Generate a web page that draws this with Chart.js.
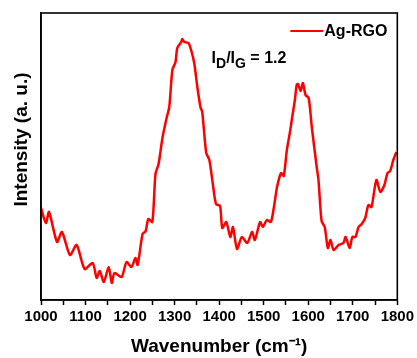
<!DOCTYPE html>
<html>
<head>
<meta charset="utf-8">
<script src="https://cdn.jsdelivr.net/npm/chart.js@4.4.1/dist/chart.umd.min.js"></script>
<style>
  html, body { margin: 0; padding: 0; background: #fff; }
  #wrap { width: 417px; height: 358px; position: relative; }
</style>
</head>
<body>
<div id="wrap"><canvas id="c" width="417" height="358"></canvas></div>
<script>
// ---- data ----
const seriesName = 'Ag-RGO';
const wavenumber = [1000,1011,1018,1036,1047,1065,1080,1098,1116,1125,1132,1141,1152,1159,1165,1181,1192,1203,1212,1217,1228,1235,1241,1250,1257,1264,1273,1282,1288,1295,1302,1306,1315,1317,1322,1331,1337,1344,1351,1358,1362,1371,1378,1387,1393,1402,1407,1416,1425,1431,1440,1451,1463,1474,1480,1492,1498,1507,1516,1523,1530,1539,1545,1552,1559,1563,1570,1574,1577,1583,1588,1594,1601,1608,1619,1623,1630,1637,1644,1650,1657,1668,1679,1684,1693,1699,1706,1713,1720,1728,1735,1742,1753,1762,1771,1778,1784,1791,1798];
const intensity = [92,77,88,58,68,45,55,31,37,22,29,18,33,17,27,23,38,33,42,35,66,69,81,78,126,136,163,182,193,230,238,252,258,261,258,257,250,237,213,193,188,147,140,112,96,94,72,78,63,73,51,63,57,68,60,78,73,80,78,93,113,127,124,150,168,180,200,215,216,209,217,205,202,173,133,120,79,73,52,60,50,55,57,63,52,63,63,73,76,82,95,93,120,108,115,127,129,140,148];
const xTickValues = [1000,1100,1200,1300,1400,1500,1600,1700,1800];
const xTitle = 'Wavenumber (cm\u207B\u00B9)';
const yTitle = 'Intensity (a. u.)';
const ratioLabel = { main: 'I', sub1: 'D', slash: '/I', sub2: 'G', rest: ' = 1.2', x: 1383, y: 237 };

const FONT = "'Liberation Sans', Arial, sans-serif";
const RED = '#ff0000';

const boxAndNote = {
  id: 'boxAndNote',
  afterDatasetsDraw(chart) {
    const { ctx, chartArea: a, scales } = chart;
    ctx.save();
    ctx.strokeStyle = '#000';
    ctx.lineWidth = 1.6;
    ctx.strokeRect(a.left, a.top, a.right - a.left, a.bottom - a.top);
    // y axis title (placed a little above the axis centre, as in the original)
    ctx.save();
    ctx.translate(22, (a.top + a.bottom) / 2 - 17);
    ctx.rotate(-Math.PI / 2);
    ctx.fillStyle = '#000';
    ctx.font = 'bold 19px ' + FONT;
    ctx.textAlign = 'center';
    ctx.textBaseline = 'middle';
    ctx.fillText(yTitle, 0, 0);
    ctx.restore();
    // legend (inside plot, top right)
    const ds = chart.data.datasets[0];
    const ly = a.top + 18;
    const lx = a.right - 107;
    ctx.strokeStyle = ds.borderColor;
    ctx.lineWidth = 2;
    ctx.beginPath();
    ctx.moveTo(lx, ly);
    ctx.lineTo(lx + 33, ly);
    ctx.stroke();
    ctx.fillStyle = '#000';
    ctx.font = 'bold 16px ' + FONT;
    ctx.textBaseline = 'middle';
    ctx.fillText(ds.label, lx + 34, ly + 1);
    // I_D/I_G = 1.2
    let x = scales.x.getPixelForValue(ratioLabel.x);
    const y = scales.y.getPixelForValue(ratioLabel.y);
    ctx.textBaseline = 'alphabetic';
    const big = 'bold 16px ' + FONT, small = 'bold 14px ' + FONT;
    const parts = [[ratioLabel.main, big, 0], [ratioLabel.sub1, small, 5], [ratioLabel.slash, big, 0], [ratioLabel.sub2, small, 5], [ratioLabel.rest, big, 0]];
    for (const [t, f, dy] of parts) {
      ctx.font = f;
      ctx.fillText(t, x, y + dy);
      x += ctx.measureText(t).width;
    }
    ctx.restore();
  }
};

new Chart(document.getElementById('c'), {
  type: 'line',
  data: {
    datasets: [{
      label: seriesName,
      data: wavenumber.map((w, i) => ({ x: w, y: intensity[i] })),
      borderColor: RED,
      backgroundColor: RED,
      borderWidth: 2.5,
      pointRadius: 0,
      tension: 0.25,
      fill: false
    }]
  },
  options: {
    responsive: false,
    animation: false,
    layout: { padding: { top: 13, right: 18, left: 0, bottom: 0 } },
    plugins: {
      tooltip: { enabled: false },
      legend: { display: false }
    },
    scales: {
      x: {
        type: 'linear',
        min: 1000,
        max: 1800,
        afterFit(s) { s.height = 58; },
        afterBuildTicks(s) {
          const t = [];
          for (let v = 1000; v <= 1800; v += 50) t.push({ value: v });
          s.ticks = t;
        },
        ticks: {
          autoSkip: false,
          maxRotation: 0,
          color: '#000',
          font: { family: FONT, size: 15, weight: 'bold' },
          padding: 3,
          callback: (v) => xTickValues.includes(v) ? String(v) : ''
        },
        grid: { display: true, drawOnChartArea: false, drawTicks: true, tickLength: 5, color: '#000', tickWidth: 1.5 },
        border: { display: true, color: '#000', width: 1.6 },
        title: { display: true, text: xTitle, color: '#000', font: { family: FONT, size: 19, weight: 'bold' }, padding: { top: 0, bottom: 0 } }
      },
      y: {
        min: 0,
        max: 287,
        afterFit(s) { s.width = 41; },
        ticks: { display: false },
        grid: { display: false },
        border: { display: true, color: '#000', width: 1.6 },
        title: { display: false, text: yTitle }
      }
    }
  },
  plugins: [boxAndNote]
});
</script>
</body>
</html>
